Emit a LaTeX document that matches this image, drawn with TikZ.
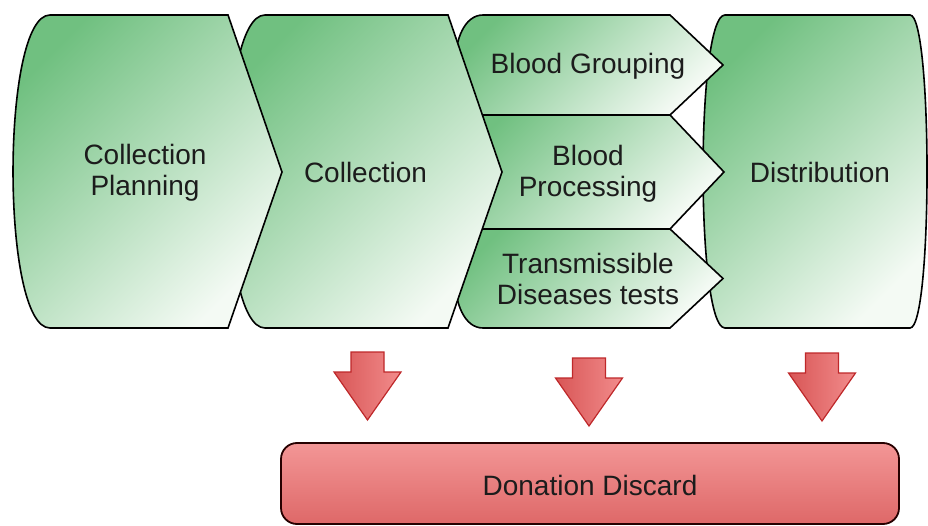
\documentclass[tikz,border=0pt]{standalone}
\usepackage{fontspec}
\setmainfont{Liberation Sans}
\definecolor{gdark}{RGB}{112,192,128}
\definecolor{glight}{RGB}{244,250,244}
\definecolor{rtop}{RGB}{243,150,150}
\definecolor{rbot}{RGB}{222,104,104}
\definecolor{adark}{RGB}{216,86,86}
\definecolor{alight}{RGB}{242,140,140}
\definecolor{aedge}{RGB}{190,40,42}
\definecolor{txt}{RGB}{28,28,28}
\begin{document}
\begin{tikzpicture}[x=1pt,y=-1pt,
  gshape/.style={draw=black, line width=1.6pt, top color=gdark, bottom color=glight, shading angle=45},
  lbl/.style={text=txt, align=center, font=\fontsize{28}{31}\selectfont, inner sep=0pt},
  arrowfill/.style={draw=aedge, line width=1.2pt, left color=adark, right color=alight},
  discard/.style={draw=black!85!red, line width=1.8pt, top color=rtop, bottom color=rbot, rounded corners=16pt},
  redarr/.pic={\path[arrowfill] (-16.5,0) -- (16.5,0) -- (16.5,20) -- (33.5,20) -- (0,68) -- (-33.5,20) -- (-16.5,20) -- cycle;}
]
\useasboundingbox (0,0) rectangle (928,526);

% Distribution
\path[gshape] (725,15) -- (910,15) .. controls (932.7,15) and (932.7,328) .. (910,328)
  -- (725,328) .. controls (695.7,328) and (695.7,15) .. (725,15) -- cycle;

% middle chevrons
\path[gshape] (483,229) -- (670,229) -- (723,278.5) -- (670,328) -- (483,328)
  .. controls (445.7,328) and (445.7,229) .. (483,229) -- cycle;
\path[gshape] (483,115) -- (670,115) -- (724,172) -- (670,229) -- (483,229)
  .. controls (445.7,229) and (445.7,115) .. (483,115) -- cycle;
\path[gshape] (483,15) -- (670,15) -- (723,65) -- (670,115) -- (483,115)
  .. controls (445.7,115) and (445.7,15) .. (483,15) -- cycle;

% Collection
\path[gshape] (265,15) -- (448,15) -- (502,172) -- (448,328) -- (265,328)
  .. controls (215.7,328) and (215.7,15) .. (265,15) -- cycle;

% Collection Planning
\path[gshape] (50,15) -- (228,15) -- (282,172) -- (228,328) -- (50,328)
  .. controls (0.7,328) and (0.7,15) .. (50,15) -- cycle;

% labels
\node[lbl] (cp) at (145,173) {Collection\\Planning};
\node[lbl] (col) at (365.5,172) {Collection};
\node[lbl] (bg) at (588,66) {Blood Grouping};
\node[lbl] (bp) at (588,174) {Blood\\Processing};
\node[lbl] (td) at (588,279) {Transmissible\\Diseases tests};
\node[lbl] (dist) at (820,172) {Distribution};

% red arrows
\pic at (367.5,352) {redarr};
\pic at (589,358) {redarr};
\pic at (822,353) {redarr};

% discard box
\path[discard] (281,443) rectangle (899,524);
\node[lbl] (dd) at (590,485) {Donation Discard};
\end{tikzpicture}
\end{document}
